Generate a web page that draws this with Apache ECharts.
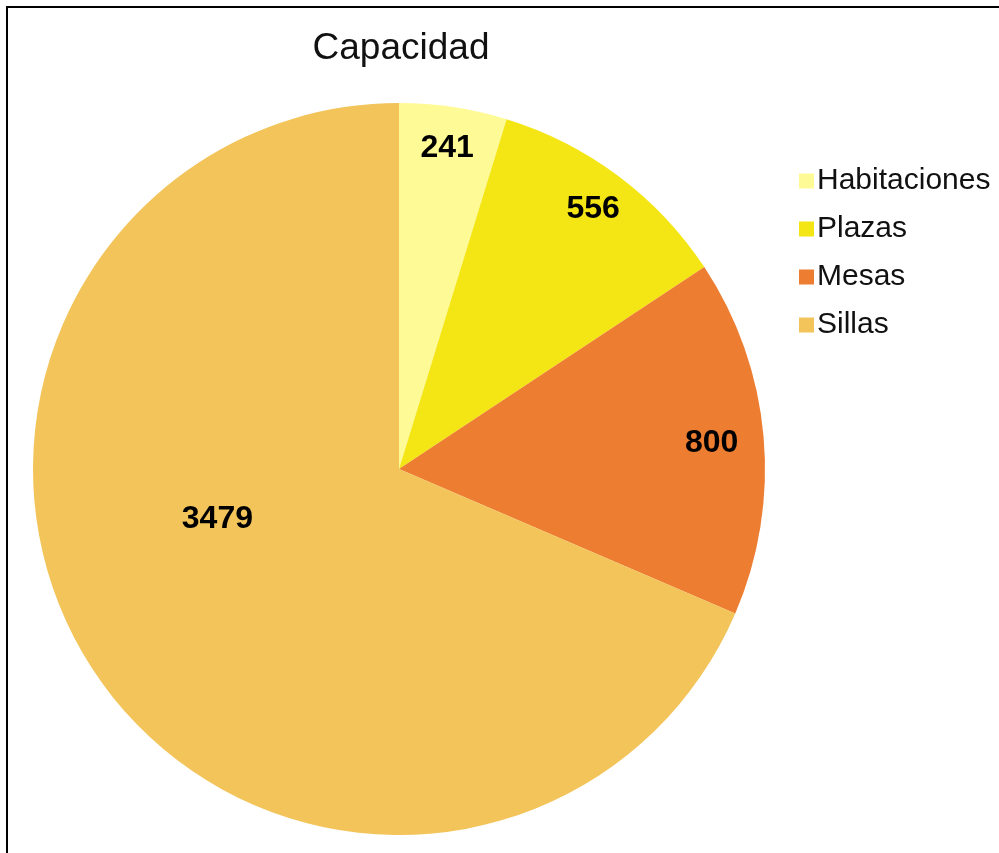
<!DOCTYPE html>
<html>
<head>
<meta charset="utf-8">
<script src="https://cdn.jsdelivr.net/npm/echarts@6/dist/echarts.min.js"></script>
<style>
html,body{margin:0;padding:0;background:#fff;}
#chart{width:999px;height:853px;}
</style>
</head>
<body>
<div id="chart"></div>
<script>
const chartTitle = 'Capacidad';
const categories = ['Habitaciones', 'Plazas', 'Mesas', 'Sillas'];
const values = [241, 556, 800, 3479];
const colors = ['#FEFA95', '#F4E614', '#ED7D31', '#F2C45A'];

const FONT = '"Liberation Sans", Arial, sans-serif';
const chart = echarts.init(document.getElementById('chart'));

const mainData = categories.map((c, i) => ({ name: c, value: values[i], itemStyle: { color: colors[i] } }));
const labelOffsets = { Mesas: [-10, 3], Sillas: [89, -128] };
const labelData = categories.map((c, i) => {
  const d = { name: c, value: values[i] };
  if (labelOffsets[c]) d.label = { offset: labelOffsets[c] };
  return d;
});

chart.setOption({
  animation: false,
  backgroundColor: '#fff',
  title: {
    text: chartTitle,
    left: 396, textAlign: 'center', top: 25,
    textStyle: { fontFamily: FONT, fontSize: 37, fontWeight: 'normal', color: '#111' }
  },
  legend: {
    orient: 'vertical',
    left: 794, top: 161,
    icon: 'rect', itemWidth: 15, itemHeight: 15, itemGap: 18,
    data: categories,
    textStyle: { fontFamily: FONT, fontSize: 30, color: '#111', lineHeight: 30, padding: [0, 0, 0, -2] },
    selectedMode: false
  },
  graphic: [{
    type: 'rect', shape: { x: 7, y: 7, width: 1200, height: 1200 },
    style: { fill: 'none', stroke: '#000', lineWidth: 2 }, silent: true, z: 100
  }],
  series: [
    {
      type: 'pie', name: 'main',
      center: [399, 469], radius: [0, 366],
      startAngle: 90, clockwise: true,
      label: { show: false }, labelLine: { show: false },
      itemStyle: { borderWidth: 0 },
      emphasis: { disabled: true },
      data: mainData
    },
    {
      type: 'pie', name: 'labels',
      center: [399, 469], radius: [276, 366],
      startAngle: 90, clockwise: true, silent: true,
      itemStyle: { color: 'rgba(0,0,0,0)', borderWidth: 0 },
      label: {
        show: true, position: 'inside', formatter: '{c}',
        fontFamily: FONT, fontSize: 32, fontWeight: 'bold', color: '#000'
      },
      labelLine: { show: false },
      emphasis: { disabled: true },
      data: labelData
    }
  ]
});
</script>
</body>
</html>
